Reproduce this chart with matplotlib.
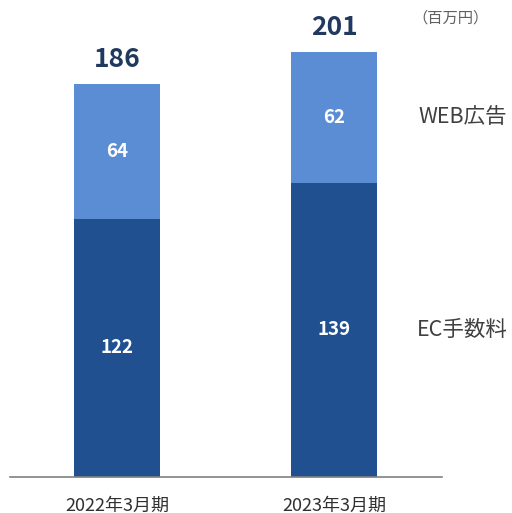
import numpy as np
import matplotlib
matplotlib.use("Agg")
import matplotlib.pyplot as plt

plt.rcParams["font.family"] = ["Noto Sans CJK JP", "DejaVu Sans"]

# ── Data ─────────────────────────────────────────────────────────────────────
periods = ["2022年3月期", "2023年3月期"]
ec_fee = [122, 139]
web_ad = [64, 62]
series_names = ["EC手数料", "WEB広告"]
unit_label = "（百万円）"

COLORS = {
    "ec": "#20508f",
    "web": "#5b8dd5",
    "total": "#22395f",
    "side": "#404040",
    "unit": "#606060",
    "axis": "#808080",
}

# ── Figure ───────────────────────────────────────────────────────────────────
fig = plt.figure(figsize=(5.12, 5.13), dpi=100, facecolor="white")
ax = fig.add_axes([0.0195, 0.0702, 0.844, 0.9298])

x = np.arange(len(periods))
width = 0.396
ec = np.array(ec_fee)
web = np.array(web_ad)
totals = ec + web

ax.bar(x, ec, width, color=COLORS["ec"], zorder=2)
ax.bar(x, web, width, bottom=ec, color=COLORS["web"], zorder=2)

for xi, e, w, t in zip(x, ec, web, totals):
    ax.text(xi, e / 2, f"{e}", ha="center", va="center",
            color="white", fontsize=13.5, fontweight="bold")
    ax.text(xi, e + w / 2, f"{w}", ha="center", va="center",
            color="white", fontsize=13.5, fontweight="bold")
    ax.text(xi, t + 5, f"{t}", ha="center", va="bottom",
            color=COLORS["total"], fontsize=19, fontweight="bold")

# series labels to the right of the last bar
ax.text(1.39, ec[-1] + web[-1] / 2, series_names[1], ha="left", va="center",
        color=COLORS["side"], fontsize=15.5, clip_on=False)
ax.text(1.38, ec[-1] / 2, series_names[0], ha="left", va="center",
        color=COLORS["side"], fontsize=15.5, clip_on=False)
ax.text(1.36, 217, unit_label, ha="left", va="center",
        color=COLORS["unit"], fontsize=11, clip_on=False)

ax.set_xlim(-0.493, 1.498)
ax.set_ylim(0, 225.5)
ax.set_xticks(x)
ax.set_xticklabels(periods, fontsize=13, color="#303030")
ax.tick_params(axis="x", length=0, pad=14)
ax.set_yticks([])
for side in ["top", "right", "left"]:
    ax.spines[side].set_visible(False)
ax.spines["bottom"].set_color(COLORS["axis"])
ax.spines["bottom"].set_linewidth(1.2)
ax.set_facecolor("white")

fig.savefig("out.png", dpi=100, facecolor="white")
